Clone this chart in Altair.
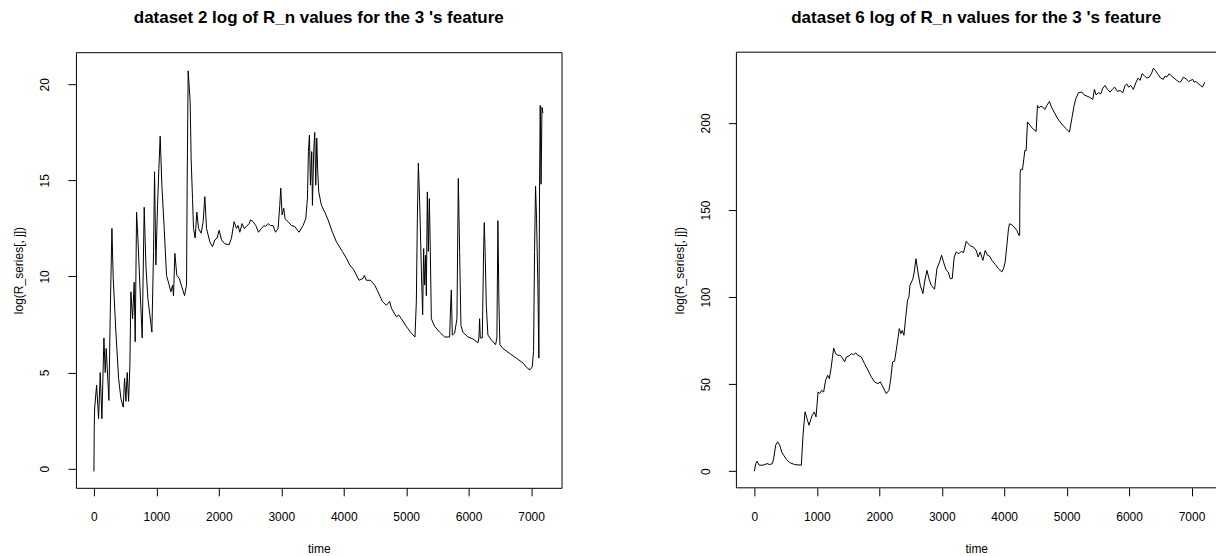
import altair as alt
import pandas as pd

FONT = "Liberation Sans"

# ---- dataset 2: log of R_n for the 3's feature ----
time_ds2 = [
    0, 5, 11, 43, 75, 101, 128, 160, 181, 197, 240, 261, 288, 309, 352, 395,
    432, 469, 491, 512, 533, 555, 576, 592, 619, 645, 661, 683, 704, 736, 773, 805,
    832, 864, 896, 928, 955, 971, 992, 1019, 1040, 1061, 1088, 1125, 1163, 1205, 1232, 1259,
    1275, 1296, 1328, 1365, 1408, 1451, 1483, 1493, 1509, 1541, 1557, 1579, 1595, 1621, 1648, 1675,
    1717, 1749, 1776, 1803, 1856, 1899, 1936, 1973, 2005, 2043, 2096, 2165, 2203, 2245, 2283, 2309,
    2336, 2373, 2405, 2443, 2485, 2507, 2549, 2592, 2635, 2683, 2725, 2747, 2789, 2827, 2869, 2907,
    2949, 2976, 2992, 3013, 3040, 3061, 3109, 3163, 3216, 3285, 3349, 3392, 3419, 3435, 3451, 3467,
    3488, 3499, 3520, 3536, 3552, 3568, 3584, 3600, 3643, 3696, 3749, 3819, 3883, 3979, 4043, 4096,
    4160, 4245, 4309, 4331, 4363, 4427, 4496, 4549, 4619, 4683, 4736, 4763, 4843, 4880, 4923, 5003,
    5083, 5141, 5163, 5179, 5195, 5216, 5243, 5264, 5280, 5296, 5312, 5323, 5339, 5355, 5371, 5387,
    5403, 5456, 5536, 5616, 5696, 5712, 5723, 5739, 5776, 5813, 5835, 5856, 5877, 5909, 5989, 6069,
    6149, 6165, 6176, 6187, 6219, 6240, 6251, 6267, 6283, 6309, 6363, 6432, 6453, 6469, 6485, 6501,
    6549, 6656, 6763, 6869, 6949, 6987, 7019, 7040, 7056, 7072, 7088, 7109, 7125, 7136, 7147, 7160,
    7175, 7190,
]
value_ds2 = [
    -0.15, 2.1, 3.1, 4.35, 2.6, 5.0, 2.6, 6.8, 5.0, 6.25, 3.55, 8.0, 12.5, 9.9, 7.1, 4.7,
    3.65, 3.2, 4.7, 3.5, 5.0, 3.5, 5.4, 9.2, 7.8, 9.7, 6.6, 13.35, 12.0, 9.55, 6.8, 13.6,
    10.6, 8.85, 8.0, 7.1, 11.3, 15.45, 10.6, 13.7, 15.6, 17.3, 14.75, 12.5, 10.05, 9.55, 9.2, 9.55,
    9.0, 11.2, 10.05, 9.9, 9.45, 9.0, 9.55, 14.75, 20.7, 19.1, 16.1, 14.05, 12.5, 12.0, 13.35, 12.5,
    12.25, 12.85, 14.15, 12.5, 11.8, 11.55, 11.9, 12.0, 12.4, 11.9, 11.7, 11.65, 12.0, 12.85, 12.5, 12.65,
    12.3, 12.75, 12.5, 12.6, 12.75, 12.95, 12.85, 12.65, 12.3, 12.5, 12.65, 12.6, 12.75, 12.65, 12.65, 12.3,
    12.5, 13.7, 14.6, 13.2, 13.55, 13.0, 12.85, 12.65, 12.6, 12.3, 12.65, 13.0, 14.05, 16.5, 17.35, 14.75,
    16.5, 13.7, 16.5, 17.5, 14.75, 17.2, 15.45, 14.4, 13.7, 13.35, 12.95, 12.3, 11.8, 11.3, 10.95, 10.6,
    10.35, 9.8, 9.9, 10.05, 9.8, 9.8, 9.55, 9.2, 8.7, 8.5, 8.7, 8.35, 7.9, 8.0, 7.8, 7.4,
    7.05, 6.85, 8.7, 13.0, 15.9, 13.9, 10.4, 8.0, 11.45, 9.55, 11.1, 9.0, 14.4, 11.3, 14.05, 11.3,
    7.8, 7.4, 7.1, 6.85, 6.85, 8.5, 9.3, 6.95, 7.05, 7.8, 15.1, 11.3, 7.45, 7.1, 6.85, 6.75,
    6.55, 6.8, 7.8, 6.8, 6.8, 11.3, 12.8, 10.95, 8.5, 6.95, 6.7, 6.45, 6.8, 12.9, 8.7, 6.45,
    6.25, 6.0, 5.75, 5.5, 5.2, 5.15, 5.3, 6.1, 11.3, 14.7, 13.0, 9.55, 5.75, 14.9, 18.9, 14.8,
    18.8, 18.5,
]

# ---- dataset 6: log of R_n for the 3's feature ----
time_ds6 = [
    0, 21, 43, 75, 139, 203, 245, 288, 309, 341, 373, 405, 437, 469, 512, 565,
    645, 752, 779, 811, 843, 875, 907, 928, 960, 987, 1003, 1019, 1045, 1077, 1109, 1141,
    1173, 1200, 1227, 1248, 1269, 1301, 1339, 1376, 1408, 1445, 1472, 1515, 1552, 1589, 1621, 1659,
    1712, 1765, 1819, 1872, 1925, 1979, 2016, 2059, 2112, 2155, 2181, 2213, 2245, 2272, 2299, 2320,
    2347, 2368, 2395, 2421, 2453, 2475, 2491, 2517, 2539, 2560, 2587, 2619, 2656, 2699, 2725, 2763,
    2795, 2832, 2885, 2923, 2965, 2997, 3029, 3072, 3104, 3136, 3168, 3200, 3232, 3275, 3312, 3349,
    3392, 3424, 3456, 3509, 3552, 3584, 3616, 3659, 3696, 3733, 3765, 3803, 3856, 3909, 3963, 3989,
    4016, 4043, 4069, 4085, 4123, 4160, 4203, 4235, 4248, 4251, 4256, 4267, 4293, 4315, 4331, 4352,
    4373, 4416, 4459, 4512, 4533, 4560, 4587, 4619, 4651, 4683, 4725, 4757, 4800, 4843, 4896, 4949,
    5003, 5045, 5083, 5120, 5147, 5189, 5243, 5280, 5323, 5365, 5419, 5445, 5472, 5509, 5547, 5579,
    5616, 5653, 5696, 5739, 5771, 5813, 5856, 5899, 5936, 5963, 5995, 6027, 6069, 6112, 6144, 6176,
    6208, 6240, 6283, 6325, 6363, 6389, 6421, 6469, 6507, 6549, 6576, 6603, 6640, 6683, 6720, 6763,
    6805, 6832, 6869, 6912, 6955, 6987, 7019, 7040, 7072, 7109, 7147, 7173, 7200, 7211,
]
value_ds6 = [
    0.0, 4.4, 5.8, 3.5, 3.5, 4.4, 3.85, 4.4, 7.3, 15.0, 16.9, 15.0, 11.1, 9.2, 6.9, 5.0,
    3.85, 3.5, 20.7, 34.1, 30.2, 26.4, 30.2, 32.2, 34.1, 31.2, 37.9, 45.5, 44.6, 46.5, 45.5, 52.3,
    55.1, 53.2, 58.9, 64.7, 70.8, 67.5, 66.6, 66.6, 65.1, 62.8, 65.6, 66.2, 67.5, 67.0, 67.9, 66.6,
    65.6, 61.8, 58.0, 54.2, 51.3, 50.3, 51.3, 48.4, 44.6, 46.5, 52.3, 62.8, 63.2, 69.5, 76.1, 81.9,
    79.0, 80.9, 78.1, 87.6, 98.2, 100.1, 106.8, 108.7, 110.6, 114.4, 122.0, 114.4, 106.8, 102.0, 108.7, 115.4,
    110.6, 106.8, 104.5, 116.3, 120.1, 124.0, 120.1, 115.4, 114.4, 110.6, 110.6, 123.0, 125.9, 124.9, 126.3, 125.5,
    132.0, 130.6, 129.5, 128.7, 126.8, 123.0, 125.9, 121.1, 126.8, 124.0, 123.6, 121.1, 118.8, 116.3, 114.4, 116.3,
    120.1, 129.7, 139.2, 142.1, 141.5, 140.2, 138.3, 135.5, 135.5, 156.5, 171.8, 173.3, 173.3, 179.4, 184.2, 184.2,
    200.5, 198.6, 196.6, 195.1, 210.0, 208.5, 209.6, 209.1, 207.7, 210.0, 212.3, 209.1, 206.2, 203.3, 200.5, 198.2,
    196.3, 194.7, 202.4, 210.0, 213.8, 217.3, 217.7, 216.1, 215.4, 214.8, 213.5, 219.2, 216.1, 217.3, 216.7, 219.9,
    221.5, 219.2, 217.7, 219.6, 220.5, 218.1, 218.6, 217.3, 221.5, 222.4, 220.5, 221.5, 219.2, 223.4, 225.7, 224.4,
    228.2, 227.3, 225.7, 226.3, 228.7, 231.4, 230.1, 227.6, 225.7, 225.0, 226.9, 226.3, 228.2, 226.9, 225.7, 224.4,
    223.4, 223.8, 226.3, 225.3, 223.8, 224.4, 225.0, 223.4, 223.8, 222.4, 221.5, 220.5, 222.4, 223.4,
]

assert len(time_ds2) == len(value_ds2)
assert len(time_ds6) == len(value_ds6)

X_TICKS = [0, 1000, 2000, 3000, 4000, 5000, 6000, 7000]
Y_TICKS_DS2 = [0, 5, 10, 15, 20]
Y_TICKS_DS6 = [0, 50, 100, 150, 200]

PLOT_H = 436


def panel(times, values, title, y_domain, y_ticks, width, x_max):
    df = pd.DataFrame({"time": times, "value": values})
    return alt.Chart(df).mark_line(color="black", strokeWidth=1).encode(
        x=alt.X(
            "time:Q",
            scale=alt.Scale(domain=[-288, x_max], nice=False, zero=False),
            axis=alt.Axis(values=X_TICKS, format="d", title="time"),
        ),
        y=alt.Y(
            "value:Q",
            scale=alt.Scale(domain=y_domain, nice=False, zero=False),
            axis=alt.Axis(
                values=y_ticks,
                format="d",
                title="log(R_series[, j])",
                labelAngle=-90,
                labelAlign="center",
                labelBaseline="bottom",
            ),
        ),
    ).properties(
        width=width,
        height=PLOT_H,
        title=alt.TitleParams(
            text=title, fontSize=17, fontWeight="bold", font=FONT,
            anchor="middle", color="black", offset=25,
        ),
    )


left = panel(time_ds2, value_ds2,
             "dataset 2 log of R_n values for the 3 's feature",
             [-1.0, 21.67], Y_TICKS_DS2, 486, 7488)

# right panel runs off the page edge, so its frame is drawn open on the right
W_RIGHT = 480
right_line = panel(time_ds6, value_ds6,
                   "dataset 6 log of R_n values for the 3 's feature",
                   [-9.5, 240.6], Y_TICKS_DS6, W_RIGHT, -288 + W_RIGHT * 16)
one = alt.Data(values=[{}])
frame_top = alt.Chart(one).mark_rule(color="black", strokeWidth=1).encode(
    x=alt.value(0), x2=alt.value(W_RIGHT), y=alt.value(0))
frame_bottom = alt.Chart(one).mark_rule(color="black", strokeWidth=1).encode(
    x=alt.value(0), x2=alt.value(W_RIGHT), y=alt.value(PLOT_H))
frame_left = alt.Chart(one).mark_rule(color="black", strokeWidth=1).encode(
    x=alt.value(0), y=alt.value(0), y2=alt.value(PLOT_H))
right = alt.layer(right_line, frame_top, frame_bottom, frame_left).properties(
    view=alt.ViewBackground(stroke="transparent"))

chart = alt.hconcat(left, right, spacing=110).properties(
    padding={"left": 12, "top": 8, "right": 0, "bottom": 0},
    background="white",
).configure_view(
    stroke="black", strokeWidth=1,
).configure_axis(
    domain=False, grid=False,
    ticks=True, tickColor="black", tickWidth=1, tickSize=8,
    labelFont=FONT, labelFontSize=12, labelColor="black",
    titleFont=FONT, titleFontSize=12, titleFontWeight="normal", titleColor="black",
).configure_axisX(
    labelPadding=16, titlePadding=21,
).configure_axisY(
    labelPadding=16, titlePadding=13,
)

chart.save("out.html", embed_options={"renderer": "svg", "actions": False})
